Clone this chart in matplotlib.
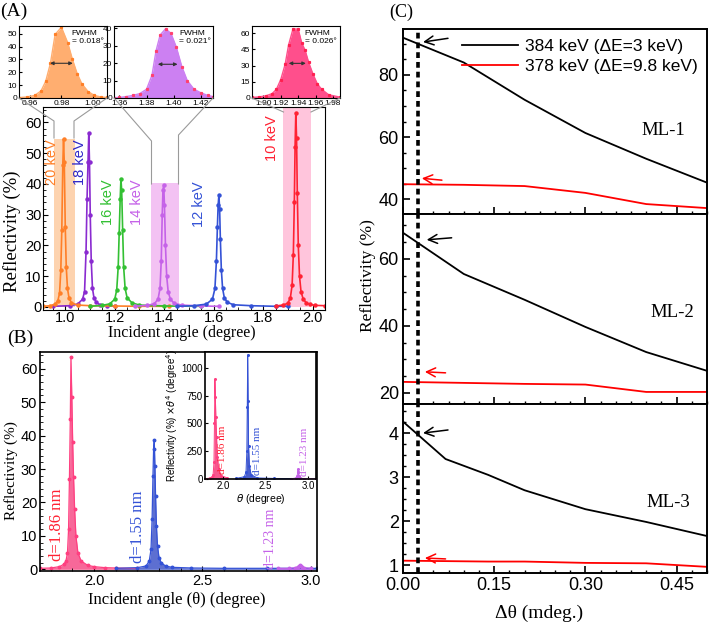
import matplotlib
matplotlib.use("Agg")
import matplotlib.pyplot as plt
from matplotlib.lines import Line2D
from matplotlib.patches import Rectangle
from matplotlib.ticker import MultipleLocator, FixedLocator

plt.rcParams['font.family'] = ['Liberation Sans', 'DejaVu Sans']
plt.rcParams['mathtext.fontset'] = 'dejavusans'
SERIF = ['Liberation Serif', 'DejaVu Serif']

W, H = 709, 626

# ---------------- data ----------------
# (A) main: reflectivity peaks at several energies
e20_x = [0.912, 0.94, 0.96, 0.970, 0.977, 0.982, 0.986, 0.990, 0.993, 0.996, 1.000, 1.004,
         1.009, 1.015, 1.025, 1.05, 1.10, 1.2, 1.3, 1.42]
e20_y = [0.2, 0.4, 0.9, 2.0, 4.5, 12, 25, 46, 54.6, 47, 26, 13, 6, 3, 1.3, 0.6, 0.4, 0.3, 0.2, 0.2]
e18_x = [0.95, 1.02, 1.05, 1.07, 1.078, 1.084, 1.088, 1.092, 1.095, 1.098, 1.101, 1.105,
         1.110, 1.116, 1.125, 1.14, 1.17, 1.2]
e18_y = [0.2, 0.4, 0.9, 2.5, 5, 18, 35, 47, 56.4, 47, 30, 15, 6, 3, 1.5, 0.7, 0.4, 0.2]
e16_x = [1.10, 1.15, 1.18, 1.200, 1.208, 1.214, 1.218, 1.222, 1.225, 1.228, 1.232, 1.236,
         1.242, 1.25, 1.27, 1.3, 1.4, 1.55]
e16_y = [0.2, 0.5, 1.0, 2.5, 5.5, 13, 24, 35, 41.6, 38, 25, 13, 6, 3, 1.3, 0.6, 0.3, 0.2]
e14_x = [1.28, 1.33, 1.36, 1.375, 1.383, 1.388, 1.392, 1.395, 1.398, 1.401, 1.405, 1.410,
         1.416, 1.425, 1.44, 1.47, 1.55, 1.62]
e14_y = [0.2, 0.5, 1.0, 2.5, 6, 15, 30, 38, 39.7, 33, 20, 10, 5, 2.5, 1.2, 0.6, 0.3, 0.2]
e12_x = [1.45, 1.52, 1.57, 1.595, 1.605, 1.611, 1.615, 1.618, 1.621, 1.624, 1.627, 1.631,
         1.636, 1.643, 1.655, 1.68, 1.75, 1.85, 1.90]
e12_y = [0.2, 0.4, 0.9, 2.5, 6, 15, 26, 33, 36.3, 32, 22, 12, 6, 3, 1.5, 0.7, 0.4, 0.2, 0.2]
e10_x = [1.85, 1.88, 1.90, 1.910, 1.917, 1.922, 1.926, 1.929, 1.932, 1.935, 1.938, 1.942,
         1.947, 1.953, 1.962, 1.975, 1.99, 2.01, 2.05]
e10_y = [0.3, 0.6, 1.2, 3, 7, 17, 34, 52, 63.1, 55, 37, 20, 10, 5, 2.5, 1.3, 0.8, 0.5, 0.4]
energy_labels = ['20 keV', '18 keV', '16 keV', '14 keV', '12 keV', '10 keV']
label_pos = [(0.948, 47), (1.060, 47), (1.173, 34), (1.290, 34), (1.540, 33.5), (1.835, 55)]
# zoomed windows (x0, x1, top)
win_x0 = [0.953, 1.347, 1.880]
win_x1 = [1.039, 1.458, 1.992]
win_top = [54.6, 40.2, 65]

# (A) insets
z1_x = [0.953, 0.958, 0.963, 0.967, 0.970, 0.973, 0.976, 0.980, 0.984, 0.987, 0.990, 0.993,
        0.997, 1.001, 1.005, 1.009]
z1_y = [0.3, 0.8, 2.0, 5.5, 13, 27, 49.5, 55, 43, 30, 19, 11, 5, 2, 0.8, 0.4]
z2_x = [1.356, 1.36, 1.365, 1.37, 1.375, 1.380, 1.384, 1.387, 1.390, 1.394, 1.398, 1.402, 1.406,
        1.410, 1.415, 1.420, 1.425, 1.429]
z2_y = [0.2, 0.3, 0.8, 1.5, 2.5, 5, 13, 27, 36, 39.6, 37, 29, 18, 10, 5, 3, 1.5, 0.8]
z3_x = [1.887, 1.895, 1.903, 1.910, 1.915, 1.920, 1.925, 1.929, 1.934, 1.940, 1.944, 1.948,
        1.952, 1.957, 1.962, 1.967, 1.975, 1.988]
z3_y = [0.5, 1, 2, 4, 8, 17, 31, 49, 63.7, 63.7, 51, 44, 33, 22, 13, 8, 3, 0.8]
fwhm_x0 = [0.971, 1.3863, 1.926]
fwhm_x1 = [0.989, 1.4049, 1.952]
fwhm_y = [27, 19.3, 32]
fwhm_txt = ['FWHM\n= 0.018°', 'FWHM\n= 0.021°', 'FWHM\n= 0.026°']

# (B) main: three d-spacings
b186_x = [1.75, 1.80, 1.84, 1.86, 1.870, 1.877, 1.882, 1.886, 1.890, 1.893, 1.897, 1.901,
          1.905, 1.910, 1.916, 1.925, 1.94, 1.97, 2.0, 2.05, 2.1, 2.2]
b186_y = [0.3, 0.4, 0.8, 1.5, 2.5, 5, 12, 27, 45, 63.5, 51.6, 38, 27.7, 18, 10, 5, 2.5, 1.2,
          0.8, 0.5, 0.4, 0.3]
b155_x = [2.1, 2.2, 2.24, 2.255, 2.263, 2.268, 2.272, 2.275, 2.278, 2.281, 2.284, 2.288,
          2.293, 2.300, 2.31, 2.33, 2.36, 2.45, 2.6, 2.8, 3.03]
b155_y = [0.3, 0.5, 1, 2.5, 6, 15, 28, 36, 38.6, 31, 22, 13, 7, 3.5, 2, 1, 0.6, 0.4, 0.3, 0.3, 0.3]
b123_x = [2.85, 2.90, 2.93, 2.94, 2.948, 2.952, 2.956, 2.96, 2.97, 3.0]
b123_y = [0.3, 0.3, 0.5, 0.8, 1.1, 1.3, 1.1, 0.8, 0.5, 0.3]
# (B) inset: reflectivity x theta^4
bi186_x = [1.79, 1.85, 1.87, 1.885, 1.895, 1.901, 1.906, 1.911, 1.917, 1.925, 1.935, 1.95, 1.98, 2.05]
bi186_y = [3, 8, 15, 40, 150, 500, 900, 740, 560, 380, 200, 90, 30, 10]
bi155_x = [2.15, 2.25, 2.27, 2.28, 2.285, 2.29, 2.295, 2.30, 2.31, 2.33, 2.4, 2.6, 2.8]
bi155_y = [5, 20, 60, 250, 650, 1117, 700, 300, 120, 40, 10, 5, 4]
bi123_x = [2.8, 2.86, 2.87, 2.875, 2.88, 2.885, 2.89, 2.9, 2.95, 3.09]
bi123_y = [2, 10, 30, 60, 90, 65, 30, 10, 3, 2]

# (C) reflectivity vs angular offset
dth = [0, 0.1, 0.2, 0.3, 0.4, 0.5]
ml1_384 = [92, 84, 72, 61.3, 53, 45.3]
ml1_378 = [44.8, 44.6, 44.2, 42, 38.4, 37.1]
ml2_384 = [67.8, 55.5, 47.8, 39.7, 32.2, 26.6]
ml2_378 = [23.3, 23.0, 22.7, 22.5, 20.3, 20.3]
dth3 = [0, 0.07, 0.14, 0.2, 0.3, 0.4, 0.5]
ml3_384 = [4.26, 3.41, 3.05, 2.7, 2.27, 1.98, 1.66]
ml3_378 = [1.10, 1.09, 1.08, 1.08, 1.05, 1.04, 0.96]
dth_mark = 0.025

ORANGE = '#FF7F27'
PURPLE = '#8A2BD0'
GREEN = '#33C033'
VIOLET = '#C562E8'
BLUE = '#3452D6'
RED = '#FF2233'
PINK = '#FF3F80'


def box(l, t, r, b):
    return [l / W, 1 - b / H, (r - l) / W, (b - t) / H]


def fpt(x, y):
    return x / W, 1 - y / H


fig = plt.figure(figsize=(W / 100, H / 100), dpi=100)

# ---------------- (A) main ----------------
axA = fig.add_axes(box(43, 107, 325, 310))
for x0, x1, top, c in zip(win_x0, win_x1, win_top, ['#FDD3AF', '#F3C2F3', '#FFC5DC']):
    axA.add_patch(Rectangle((x0, 0), x1 - x0, top, color=c, lw=0, zorder=0))
peaks = [(e18_x, e18_y, PURPLE), (e20_x, e20_y, ORANGE), (e16_x, e16_y, GREEN),
         (e14_x, e14_y, VIOLET), (e12_x, e12_y, BLUE), (e10_x, e10_y, RED)]
for x, y, c in peaks:
    axA.plot(x, y, '-o', color=c, lw=1.2, ms=2.2, zorder=2)
lab_cols = [ORANGE, '#3028C8', GREEN, VIOLET, BLUE, RED]
for t, (x, y), c in zip(energy_labels, label_pos, lab_cols):
    axA.text(x, y, t, rotation=90, color=c, fontsize=10.5, ha='center', va='center')
axA.set_xlim(0.91, 2.05)
axA.set_ylim(-1, 65)
axA.xaxis.set_major_locator(MultipleLocator(0.2))
axA.xaxis.set_minor_locator(MultipleLocator(0.05))
axA.yaxis.set_major_locator(MultipleLocator(10))
axA.yaxis.set_minor_locator(MultipleLocator(2))
axA.tick_params(which='both', direction='in', labelsize=10.5, pad=1)
axA.tick_params(which='minor', length=2)

# insets of (A)
ins_boxes = [box(19, 26, 107, 98), box(114, 26, 213, 98), box(252, 26, 340, 98)]
ins_data = [(z1_x, z1_y, '#FFAE70', ORANGE), (z2_x, z2_y, '#CC80F2', '#FF4070'),
            (z3_x, z3_y, '#FF4F8C', '#FF2050')]
ins_xlim = [(0.953, 1.009), (1.356, 1.429), (1.887, 1.988)]
ins_ylim = [(0, 56), (0, 41.2), (0, 66.5)]
ins_xt = [[0.96, 0.98, 1.00], [1.36, 1.38, 1.40, 1.42], [1.90, 1.92, 1.94, 1.96, 1.98]]
ins_yt = [[0, 10, 20, 30, 40, 50], [0, 10, 20, 30, 40], [0, 15, 30, 45, 60]]
ins_txt_x = [0.6, 0.66, 0.6]
for i in range(3):
    ax = fig.add_axes(ins_boxes[i])
    x, y, fc, lc = ins_data[i]
    ax.fill_between(x, y, 0, color=fc, lw=0)
    ax.plot(x, y, '-', color=fc, lw=1)
    ax.plot(x, y, 's', color=lc, ms=1.3)
    ax.annotate('', xy=(fwhm_x0[i], fwhm_y[i]), xytext=(fwhm_x1[i], fwhm_y[i]),
                arrowprops=dict(arrowstyle='<|-|>', color='#333333', lw=0.8, mutation_scale=5))
    ax.text(ins_txt_x[i], 0.95, fwhm_txt[i], transform=ax.transAxes, fontsize=6,
            ha='left', va='top')
    ax.set_xlim(*ins_xlim[i])
    ax.set_ylim(*ins_ylim[i])
    ax.xaxis.set_major_locator(FixedLocator(ins_xt[i]))
    ax.yaxis.set_major_locator(FixedLocator(ins_yt[i]))
    ax.xaxis.set_major_formatter(plt.FormatStrFormatter('%.2f'))
    ax.tick_params(direction='in', labelsize=6, length=2, pad=1.2)

# connector lines between insets and windows
conn = [[(19, 98), (54, 121), (54, 138)], [(107, 98), (74, 121), (74, 138)],
        [(114, 98), (151.5, 141), (151.5, 184)], [(213, 98), (178.5, 135), (178.5, 184)],
        [(252, 98), (283.5, 112)], [(340, 98), (311, 112)]]
for pts in conn:
    xs = [fpt(*p)[0] for p in pts]
    ys = [fpt(*p)[1] for p in pts]
    fig.add_artist(Line2D(xs, ys, color='#9A9A9A', lw=0.8))

fig.text(*fpt(12, 231), 'Reflectivity (%)', rotation=90, ha='center', va='center',
         fontsize=13.5, family=SERIF)
fig.text(*fpt(182, 333), 'Incident angle (degree)', ha='center', va='center',
         fontsize=11.5, family=SERIF)
fig.text(*fpt(14, 11), '(A)', ha='center', va='center', fontsize=14, family=SERIF)

# ---------------- (B) main ----------------
axB = fig.add_axes(box(40, 352, 317, 571))
for x, y, fc, lc in [(b186_x, b186_y, '#F7588E', PINK), (b155_x, b155_y, '#4B5FCC', BLUE),
                     (b123_x, b123_y, '#CC66EE', VIOLET)]:
    axB.fill_between(x, y, 0, color=fc, lw=0, alpha=0.9)
    axB.plot(x, y, '-o', color=lc, lw=0.9, ms=1.8)
axB.text(1.83, 13.4, 'd=1.86 nm', rotation=90, color=RED, fontsize=12, family=SERIF,
         ha='center', va='center')
axB.text(2.203, 12.8, 'd=1.55 nm', rotation=90, color=BLUE, fontsize=12, family=SERIF,
         ha='center', va='center')
axB.text(2.816, 9.2, 'd=1.23 nm', rotation=90, color=VIOLET, fontsize=10, family=SERIF,
         ha='center', va='center')
axB.set_xlim(1.75, 3.03)
axB.set_ylim(-0.5, 65)
axB.xaxis.set_major_locator(MultipleLocator(0.5))
axB.xaxis.set_minor_locator(MultipleLocator(0.1))
axB.yaxis.set_major_locator(MultipleLocator(10))
axB.yaxis.set_minor_locator(MultipleLocator(2))
axB.xaxis.set_major_formatter(plt.FormatStrFormatter('%.1f'))
axB.tick_params(which='both', direction='in', labelsize=10.5, pad=2)
axB.tick_params(which='minor', length=2)
for s in axB.spines.values():
    s.set_linewidth(1.2)

axBi = fig.add_axes(box(205, 352, 316, 479))
for x, y, fc, lc in [(bi186_x, bi186_y, '#F7588E', PINK), (bi155_x, bi155_y, '#4B5FCC', BLUE),
                     (bi123_x, bi123_y, '#CC66EE', VIOLET)]:
    axBi.fill_between(x, y, 0, color=fc, lw=0)
    axBi.plot(x, y, '-o', color=lc, lw=0.7, ms=1.2)
axBi.text(1.995, 261, 'd=1.86 nm', rotation=90, color=RED, fontsize=8, family=SERIF,
          ha='center', va='center')
axBi.text(2.40, 252, 'd=1.55 nm', rotation=90, color=BLUE, fontsize=8, family=SERIF,
          ha='center', va='center')
axBi.text(2.95, 243, 'd=1.23 nm', rotation=90, color=VIOLET, fontsize=8, family=SERIF,
          ha='center', va='center')
axBi.set_xlim(1.79, 3.09)
axBi.set_ylim(0, 1144)
axBi.xaxis.set_major_locator(MultipleLocator(0.5))
axBi.yaxis.set_major_locator(MultipleLocator(250))
axBi.xaxis.set_major_formatter(plt.FormatStrFormatter('%.1f'))
axBi.tick_params(direction='in', labelsize=7, length=2.5, pad=1.5)
axBi.set_ylabel(r'Reflectivity (%) $\times\theta^4$ (degree$^4$)', fontsize=7, labelpad=1)
axBi.set_xlabel(r'$\theta$ (degree)', fontsize=7.5, labelpad=1)
for s in axBi.spines.values():
    s.set_linewidth(1.2)

fig.text(*fpt(11, 471), 'Reflectivity (%)', rotation=90, ha='center', va='center',
         fontsize=11, family=SERIF)
fig.text(*fpt(177, 600), 'Incident angle (θ) (degree)', ha='center', va='center',
         fontsize=12, family=SERIF)
fig.text(*fpt(20, 338), '(B)', ha='center', va='center', fontsize=14, family=SERIF)

# ---------------- (C) ----------------
axC1 = fig.add_axes(box(403, 29, 707, 214))
axC2 = fig.add_axes(box(403, 214, 707, 404))
axC3 = fig.add_axes(box(403, 404, 707, 573))
axC1.plot(dth, ml1_384, color='black', lw=1.3, label='384 keV (ΔE=3 keV)')
axC1.plot(dth, ml1_378, color='red', lw=1.3, label='378 keV (ΔE=9.8 keV)')
axC2.plot(dth, ml2_384, color='black', lw=1.3)
axC2.plot(dth, ml2_378, color='red', lw=1.3)
axC3.plot(dth3, ml3_384, color='black', lw=1.3)
axC3.plot(dth3, ml3_378, color='red', lw=1.3)

arrows = [(axC1, (0.033, 90.6), (0.074, 91.8), 'black'),
          (axC1, (0.031, 46.7), (0.064, 46.1), 'red'),
          (axC2, (0.039, 65.7), (0.080, 66.3), 'black'),
          (axC2, (0.036, 26.3), (0.070, 26.0), 'red'),
          (axC3, (0.033, 4.0), (0.074, 4.07), 'black'),
          (axC3, (0.036, 1.16), (0.070, 1.14), 'red')]
for ax, tip, tail, c in arrows:
    ax.annotate('', xy=tip, xytext=tail,
                arrowprops=dict(arrowstyle='->', color=c, lw=1.1, mutation_scale=16,
                                shrinkA=0, shrinkB=0))

ylims = [(35.2, 94.8), (16.7, 73.4), (0.82, 4.66)]
ymaj = [20, 20, 1]
ymin = [5, 5, 0.25]
for ax, yl, ma, mi in zip([axC1, axC2, axC3], ylims, ymaj, ymin):
    ax.axvline(dth_mark, color='black', lw=2.6, ls=(0, (1.6, 1.1)))
    ax.set_xlim(0, 0.5)
    ax.set_ylim(*yl)
    ax.xaxis.set_major_locator(MultipleLocator(0.15))
    ax.xaxis.set_minor_locator(MultipleLocator(0.025))
    ax.yaxis.set_major_locator(MultipleLocator(ma))
    ax.yaxis.set_minor_locator(MultipleLocator(mi))
    ax.xaxis.set_major_formatter(plt.FormatStrFormatter('%.2f'))
    ax.tick_params(which='both', direction='in', labelsize=13, pad=3)
    ax.tick_params(which='major', length=5, width=1.2)
    ax.tick_params(which='minor', length=2.5, width=1)
    for s in ax.spines.values():
        s.set_linewidth(1.4)
axC1.tick_params(labelbottom=False)
axC2.tick_params(labelbottom=False)

axC1.legend(loc='upper right', bbox_to_anchor=(1.02, 1.03), frameon=False, fontsize=12.5,
            handlelength=3.2, handletextpad=0.4, labelspacing=0.25)
axC1.text(0.855, 0.454, 'ML-1', transform=axC1.transAxes, fontsize=13.5, family=SERIF,
          ha='center', va='center')
axC2.text(0.885, 0.479, 'ML-2', transform=axC2.transAxes, fontsize=13.5, family=SERIF,
          ha='center', va='center')
axC3.text(0.872, 0.42, 'ML-3', transform=axC3.transAxes, fontsize=13.5, family=SERIF,
          ha='center', va='center')

fig.text(*fpt(368, 276), 'Reflectivity (%)', rotation=90, ha='center', va='center',
         fontsize=12.5, family=SERIF)
fig.text(*fpt(539, 613), 'Δθ (mdeg.)', ha='center', va='center', fontsize=14, family=SERIF)
fig.text(*fpt(401, 12), '(C)', ha='center', va='center', fontsize=13, family=SERIF)

fig.savefig('out.png', dpi=100)
